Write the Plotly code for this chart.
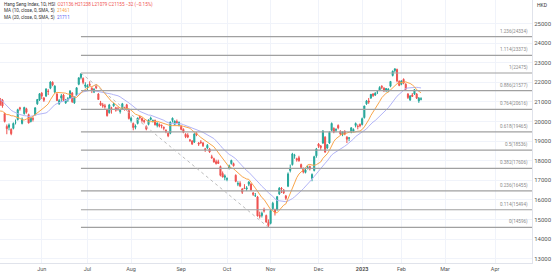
import numpy as np
import pandas as pd
import plotly.graph_objects as go

# ---------------- data ----------------
dates = [
    # Apr 2022
    "2022-04-01", "2022-04-04", "2022-04-06", "2022-04-07", "2022-04-08", "2022-04-11", "2022-04-12", "2022-04-13",
    "2022-04-14", "2022-04-19", "2022-04-20", "2022-04-21", "2022-04-22", "2022-04-25", "2022-04-26", "2022-04-27",
    "2022-04-28", "2022-04-29",
    # May
    "2022-05-03", "2022-05-04", "2022-05-05", "2022-05-06", "2022-05-10", "2022-05-11", "2022-05-12", "2022-05-13",
    "2022-05-16", "2022-05-17", "2022-05-18", "2022-05-19", "2022-05-20", "2022-05-23", "2022-05-24", "2022-05-25",
    "2022-05-26", "2022-05-27", "2022-05-30", "2022-05-31",
    # Jun
    "2022-06-01", "2022-06-02", "2022-06-06", "2022-06-07", "2022-06-08", "2022-06-09", "2022-06-10", "2022-06-13",
    "2022-06-14", "2022-06-15", "2022-06-16", "2022-06-17", "2022-06-20", "2022-06-21", "2022-06-22", "2022-06-23",
    "2022-06-24", "2022-06-27", "2022-06-28", "2022-06-29", "2022-06-30",
    # Jul
    "2022-07-04", "2022-07-05", "2022-07-06", "2022-07-07", "2022-07-08", "2022-07-11", "2022-07-12", "2022-07-13",
    "2022-07-14", "2022-07-15", "2022-07-18", "2022-07-19", "2022-07-20", "2022-07-21", "2022-07-22", "2022-07-25",
    "2022-07-26", "2022-07-27", "2022-07-28", "2022-07-29",
    # Aug
    "2022-08-01", "2022-08-02", "2022-08-03", "2022-08-04", "2022-08-05", "2022-08-08", "2022-08-09", "2022-08-10",
    "2022-08-11", "2022-08-12", "2022-08-15", "2022-08-16", "2022-08-17", "2022-08-18", "2022-08-19", "2022-08-22",
    "2022-08-23", "2022-08-24", "2022-08-25", "2022-08-26", "2022-08-29", "2022-08-30", "2022-08-31",
    # Sep
    "2022-09-01", "2022-09-02", "2022-09-05", "2022-09-06", "2022-09-07", "2022-09-08", "2022-09-09", "2022-09-13",
    "2022-09-14", "2022-09-15", "2022-09-16", "2022-09-19", "2022-09-20", "2022-09-21", "2022-09-22", "2022-09-23",
    "2022-09-26", "2022-09-27", "2022-09-28", "2022-09-29", "2022-09-30",
    # Oct
    "2022-10-03", "2022-10-05", "2022-10-06", "2022-10-07", "2022-10-10", "2022-10-11", "2022-10-12", "2022-10-13",
    "2022-10-14", "2022-10-17", "2022-10-18", "2022-10-19", "2022-10-20", "2022-10-21", "2022-10-24", "2022-10-25",
    "2022-10-26", "2022-10-27", "2022-10-28", "2022-10-31",
    # Nov
    "2022-11-01", "2022-11-02", "2022-11-03", "2022-11-04", "2022-11-07", "2022-11-08", "2022-11-09", "2022-11-10",
    "2022-11-11", "2022-11-14", "2022-11-15", "2022-11-16", "2022-11-17", "2022-11-18", "2022-11-21", "2022-11-22",
    "2022-11-23", "2022-11-24", "2022-11-25", "2022-11-28", "2022-11-29", "2022-11-30",
    # Dec
    "2022-12-01", "2022-12-02", "2022-12-05", "2022-12-06", "2022-12-07", "2022-12-08", "2022-12-09", "2022-12-12",
    "2022-12-13", "2022-12-14", "2022-12-15", "2022-12-16", "2022-12-19", "2022-12-20", "2022-12-21", "2022-12-22",
    "2022-12-23", "2022-12-28", "2022-12-29", "2022-12-30",
    # Jan 2023
    "2023-01-03", "2023-01-04", "2023-01-05", "2023-01-06", "2023-01-09", "2023-01-10", "2023-01-11", "2023-01-12",
    "2023-01-13", "2023-01-16", "2023-01-17", "2023-01-18", "2023-01-19", "2023-01-20", "2023-01-26", "2023-01-27",
    "2023-01-30", "2023-01-31",
    # Feb
    "2023-02-01", "2023-02-02", "2023-02-03", "2023-02-06", "2023-02-07", "2023-02-08", "2023-02-09", "2023-02-10",
    "2023-02-13", "2023-02-14",
]

open_ = [
    21950, 22100, 22300, 21900, 21850, 21600, 21100, 21300, 21500, 21300, 21050, 20900, 20550, 20400, 19900, 19800, 20050, 20400,
    21000, 21150, 21100, 20400, 19750, 19700, 19600, 19650, 19950, 20100, 20700, 19900, 20400, 20650, 20350, 20000, 20150, 20350, 20900, 21100,
    21450, 21200, 21300, 21550, 21700, 22000, 21500, 21400, 20900, 21200, 21350, 20950, 21100, 21200, 21450, 20950, 21350, 21900, 22250, 22200, 21800,
    21750, 21900, 21700, 21500, 21800, 21400, 20950, 20850, 20800, 20600, 20450, 20700, 20800, 20700, 20650, 20500, 20650, 20700, 20850, 20550,
    20050, 19900, 19700, 19900, 20250, 20150, 20050, 19750, 19850, 20100, 20000, 20050, 19800, 19850, 19800, 19700, 19550, 19400, 19400, 20050, 19850, 20000, 19800,
    19750, 19600, 19350, 19300, 19050, 19000, 18950, 19400, 18900, 18950, 18900, 18600, 18650, 18600, 18200, 18100, 17950, 17950, 17700, 17350, 17150,
    17050, 17600, 17850, 17850, 17250, 16800, 16850, 16550, 16600, 16550, 16800, 16800, 16350, 16200, 16150, 15200, 15200, 15500, 15200, 14850,
    14800, 15550, 15500, 15500, 16300, 16600, 16500, 16200, 16700, 17500, 17800, 18250, 18100, 18150, 17800, 17600, 17400, 17650, 17700, 17100, 17500, 18250,
    18850, 18750, 18900, 19200, 18650, 18900, 19550, 19650, 19550, 19800, 19500, 19350, 19500, 19200, 19150, 19450, 19500, 19800, 19750, 19850,
    19850, 20200, 20900, 21050, 21200, 21400, 21350, 21500, 21600, 21800, 21700, 21600, 21550, 21800, 22350, 22600, 22650, 22050,
    21900, 22150, 21900, 21400, 21100, 21350, 21400, 21400, 21050, 21136,
]

high = [
    22100, 22520, 22350, 21950, 21980, 21620, 21400, 21450, 21600, 21350, 21150, 20950, 20800, 20450, 20100, 20000, 20400, 21150,
    21200, 21200, 21150, 20450, 19850, 19900, 19650, 19950, 20100, 20650, 20750, 20200, 20750, 20700, 20400, 20200, 20250, 20720, 21150, 21450,
    21500, 21250, 21700, 21650, 22050, 22050, 21850, 21450, 21150, 21400, 21400, 21150, 21250, 21600, 21500, 21300, 21750, 22250, 22475, 22250, 22000,
    21900, 22050, 21750, 21700, 21900, 21450, 21050, 20950, 20900, 20650, 20900, 20750, 20950, 20750, 20750, 20650, 20950, 20750, 20900, 20600,
    20250, 19950, 19850, 20200, 20300, 20200, 20100, 19800, 20100, 20250, 20100, 20100, 19950, 19900, 19850, 19750, 19600, 19450, 20000, 20200, 20050, 20100, 20000,
    19800, 19650, 19400, 19400, 19100, 19050, 19400, 19450, 18950, 19050, 18950, 18650, 18850, 18650, 18300, 18150, 18050, 18050, 17750, 17450, 17300,
    17150, 17800, 18050, 17900, 17300, 16950, 16950, 16600, 16800, 16700, 16950, 16850, 16400, 16350, 16200, 15400, 15400, 15600, 15250, 15000,
    15500, 15900, 15550, 16200, 16650, 16650, 16550, 16250, 17400, 17800, 18400, 18350, 18150, 18250, 17850, 17650, 17600, 17750, 17750, 17350, 18250, 18650,
    18900, 18800, 19550, 19250, 18850, 19500, 19950, 19700, 19650, 19850, 19550, 19500, 19550, 19250, 19200, 19700, 19650, 19950, 19850, 19900,
    20200, 20800, 21100, 21200, 21400, 21450, 21500, 21600, 21800, 21850, 21750, 21700, 21700, 22050, 22600, 22700, 22700, 22100,
    22100, 22200, 21950, 21450, 21350, 21450, 21650, 21450, 21250, 21238,
]

low = [
    21850, 22060, 21980, 21700, 21750, 21150, 20950, 21200, 21400, 20950, 20850, 20600, 20500, 19850, 19750, 19650, 19900, 20350,
    20900, 20800, 20700, 19950, 19350, 19550, 19300, 19600, 19850, 20050, 20550, 19850, 20350, 20400, 19900, 19950, 20000, 20300, 20850, 21050,
    21150, 21000, 21250, 21350, 21650, 21800, 21450, 21050, 20850, 21000, 21050, 20900, 21000, 21150, 20950, 20900, 21300, 21850, 22150, 21900, 21700,
    21600, 21800, 21450, 21450, 21650, 21100, 20800, 20700, 20650, 20250, 20400, 20400, 20750, 20500, 20550, 20400, 20600, 20550, 20550, 20100,
    19950, 19550, 19600, 19850, 20100, 19950, 19900, 19550, 19800, 20050, 19950, 19800, 19700, 19700, 19650, 19550, 19400, 19200, 19350, 19950, 19800, 19900, 19750,
    19550, 19400, 19150, 19150, 18950, 18800, 18900, 19250, 18750, 18850, 18700, 18450, 18600, 18400, 18100, 17900, 17800, 17850, 17200, 17150, 17000,
    16950, 17550, 17800, 17700, 16900, 16700, 16650, 16300, 16550, 16450, 16700, 16450, 16200, 16150, 15150, 15050, 15100, 15350, 14850, 14596,
    14750, 15500, 15200, 15450, 16250, 16350, 16300, 16000, 16650, 17400, 17750, 18100, 17950, 17950, 17600, 17350, 17350, 17550, 17500, 16950, 17450, 18150,
    18650, 18550, 18850, 18400, 18600, 18850, 19500, 19400, 19450, 19600, 19300, 19250, 19300, 18900, 19000, 19400, 19450, 19700, 19600, 19700,
    19800, 20150, 20850, 20900, 21150, 21250, 21300, 21400, 21550, 21650, 21500, 21500, 21500, 21750, 22300, 22500, 22000, 21800,
    21850, 21900, 21600, 21150, 21050, 21250, 21350, 21150, 20950, 21079,
]

close = [
    22039, 22502, 22080, 21808, 21872, 21208, 21319, 21374, 21518, 21027, 20944, 20682, 20639, 19870, 19935, 19946, 20276, 21089,
    21101, 20870, 20793, 20002, 19633, 19824, 19380, 19899, 19950, 20602, 20644, 20120, 20717, 20470, 19924, 20171, 20116, 20697, 21124, 21415,
    21294, 21082, 21653, 21532, 22014, 21869, 21806, 21067, 21068, 21308, 21075, 21075, 21164, 21559, 21008, 21273, 21719, 22229, 22419, 21996, 21860,
    21830, 21853, 21587, 21643, 21725, 21124, 20845, 20797, 20751, 20297, 20846, 20661, 20890, 20575, 20610, 20563, 20905, 20671, 20622, 20157,
    20166, 19689, 19767, 20174, 20202, 20046, 20003, 19610, 20082, 20175, 20040, 19830, 19922, 19763, 19773, 19657, 19503, 19268, 19968, 20170, 20023, 19949, 19954,
    19597, 19452, 19225, 19202, 19044, 18854, 19362, 19326, 18848, 18930, 18762, 18566, 18781, 18445, 18148, 17933, 17856, 17860, 17251, 17166, 17223,
    17079, 17740, 18012, 17740, 16945, 16832, 16701, 16389, 16588, 16612, 16914, 16512, 16281, 16211, 15180, 15165, 15317, 15428, 14863, 14687,
    15455, 15827, 15339, 16161, 16595, 16557, 16359, 16081, 17326, 17619, 18343, 18257, 18046, 17993, 17656, 17424, 17524, 17661, 17573, 17297, 18204, 18597,
    18736, 18676, 19519, 18442, 18815, 19450, 19901, 19464, 19596, 19674, 19368, 19451, 19353, 19095, 19160, 19680, 19593, 19898, 19741, 19781,
    20145, 20793, 21052, 20992, 21388, 21331, 21436, 21514, 21738, 21746, 21578, 21678, 21651, 22045, 22566, 22689, 22069, 21842,
    22072, 21958, 21660, 21222, 21298, 21283, 21624, 21190, 21187, 21155,
]

# Fibonacci retracement (anchored Jun 28 high -> Oct 31 low)
fib_ratios = ["0", "0.114", "0.236", "0.382", "0.5", "0.618", "0.764", "0.886", "1", "1.114", "1.236"]
fib_prices = [14596, 15494, 16455, 17606, 18536, 19465, 20616, 21577, 22475, 23373, 24334]
fib_start_date = "2022-06-28"
fib_end_date = "2022-10-31"
fib_high = 22475
fib_low = 14596

tick_dates = ["2022-06-01", "2022-07-04", "2022-08-01", "2022-09-01", "2022-10-03", "2022-11-01",
              "2022-12-01", "2023-01-03", "2023-02-01", "2023-03-01", "2023-04-03"]
tick_labels = ["Jun", "Jul", "Aug", "Sep", "Oct", "Nov", "Dec", "<b>2023</b>", "Feb", "Mar", "Apr"]
price_ticks = [13000, 14000, 15000, 16000, 17000, 18000, 19000, 20000, 21000, 22000, 23000, 24000, 25000]

legend_title = "Hang Seng Index, 1D, HSI"
legend_ohlc = "O21136 H21238 L21079 C21155 \u221232 (\u22120.15%)"
ma10_label, ma10_value = "MA (10, close, 0, SMA, 5)", "21461"
ma20_label, ma20_value = "MA (20, close, 0, SMA, 5)", "21711"

# ---------------- build ----------------
df = pd.DataFrame({"date": pd.to_datetime(dates), "o": open_, "h": high, "l": low, "c": close})
n = len(df)
xi = np.arange(n)
ma10 = df["c"].rolling(10).mean()
ma20 = df["c"].rolling(20).mean()


def pos(d):
    d = pd.Timestamp(d)
    m = np.where(df["date"].values == np.datetime64(d))[0]
    if len(m):
        return int(m[0])
    return n - 1 + int(np.busday_count(df["date"].iloc[-1].date(), d.date()))


jun1 = pos("2022-06-01")
PX_PER_BAR = 2.18
x_range = [jun1 - 41.7 / PX_PER_BAR, jun1 + (532 - 41.7) / PX_PER_BAR]
y_range = [12777, 26201]

GREEN = "#26a69a"
RED = "#ef5350"
FONT = "Roboto"

fig = go.Figure()
fig.add_trace(go.Candlestick(
    x=xi, open=df["o"], high=df["h"], low=df["l"], close=df["c"],
    increasing=dict(line=dict(color=GREEN, width=1), fillcolor=GREEN),
    decreasing=dict(line=dict(color=RED, width=1), fillcolor=RED),
    whiskerwidth=0, hoverinfo="skip", showlegend=False,
))
fig.add_trace(go.Scatter(x=xi, y=ma20, mode="lines", line=dict(color="#b3b5f7", width=1),
                         hoverinfo="skip", showlegend=False))
fig.add_trace(go.Scatter(x=xi, y=ma10, mode="lines", line=dict(color="#f9a54a", width=1),
                         hoverinfo="skip", showlegend=False))

fs = pos(fib_start_date)
fe = pos(fib_end_date)
shapes = []
for r, p in zip(fib_ratios, fib_prices):
    shapes.append(dict(type="line", xref="x", yref="y", x0=fs, x1=x_range[1], y0=p, y1=p,
                       line=dict(color="#a0a0a0", width=1.2), layer="above"))
shapes.append(dict(type="line", xref="x", yref="y", x0=fs, x1=fe, y0=fib_high, y1=fib_low,
                   line=dict(color="#bdbdbd", width=1, dash="dot"), layer="above"))

annotations = []
for r, p in zip(fib_ratios, fib_prices):
    annotations.append(dict(x=x_range[1], y=p, xref="x", yref="y", text=f"{r}({p})",
                            showarrow=False, xanchor="right", yanchor="bottom", xshift=-2, yshift=0,
                            font=dict(family=FONT, size=4.6, color="#8a8a8a")))

annotations.append(dict(x=0, y=1, xref="paper", yref="paper", xanchor="left", yanchor="middle",
                        xshift=2, yshift=-4, showarrow=False,
                        text=f"{legend_title}  <span style='color:{RED}'>{legend_ohlc}</span>",
                        font=dict(family=FONT, size=4.6, color="#333333")))
annotations.append(dict(x=0, y=1, xref="paper", yref="paper", xanchor="left", yanchor="middle",
                        xshift=2, yshift=-10.7, showarrow=False,
                        text=f"{ma10_label}  <span style='color:#f9a54a'>{ma10_value}</span>",
                        font=dict(family=FONT, size=4.6, color="#333333")))
annotations.append(dict(x=0, y=1, xref="paper", yref="paper", xanchor="left", yanchor="middle",
                        xshift=2, yshift=-17.4, showarrow=False,
                        text=f"{ma20_label}  <span style='color:#5b5ff0'>{ma20_value}</span>",
                        font=dict(family=FONT, size=4.6, color="#333333")))
annotations.append(dict(x=1, y=1, xref="paper", yref="paper", xanchor="left", yanchor="middle",
                        xshift=3, yshift=-5, showarrow=False, text="HKD",
                        font=dict(family=FONT, size=5, color="#333333")))

fig.update_layout(
    width=556, height=276,
    margin=dict(l=0, r=24, t=0, b=13),
    paper_bgcolor="white", plot_bgcolor="white",
    shapes=shapes, annotations=annotations,
    showlegend=False,
    xaxis=dict(range=x_range, tickvals=[pos(d) for d in tick_dates], ticktext=tick_labels,
               showgrid=True, gridcolor="#f0f3fa", gridwidth=1, zeroline=False,
               showline=True, linecolor="#e0e3eb", linewidth=1, ticks="",
               tickfont=dict(family=FONT, size=5.5, color="#555555"),
               rangeslider=dict(visible=False), fixedrange=True),
    yaxis=dict(range=y_range, side="right", tickvals=price_ticks, ticktext=[str(t) for t in price_ticks],
               showgrid=True, gridcolor="#f0f3fa", gridwidth=1, zeroline=False,
               showline=True, linecolor="#e0e3eb", linewidth=1, ticks="",
               tickfont=dict(family=FONT, size=6, color="#555555"), fixedrange=True),
)

fig.write_html("out.html")
